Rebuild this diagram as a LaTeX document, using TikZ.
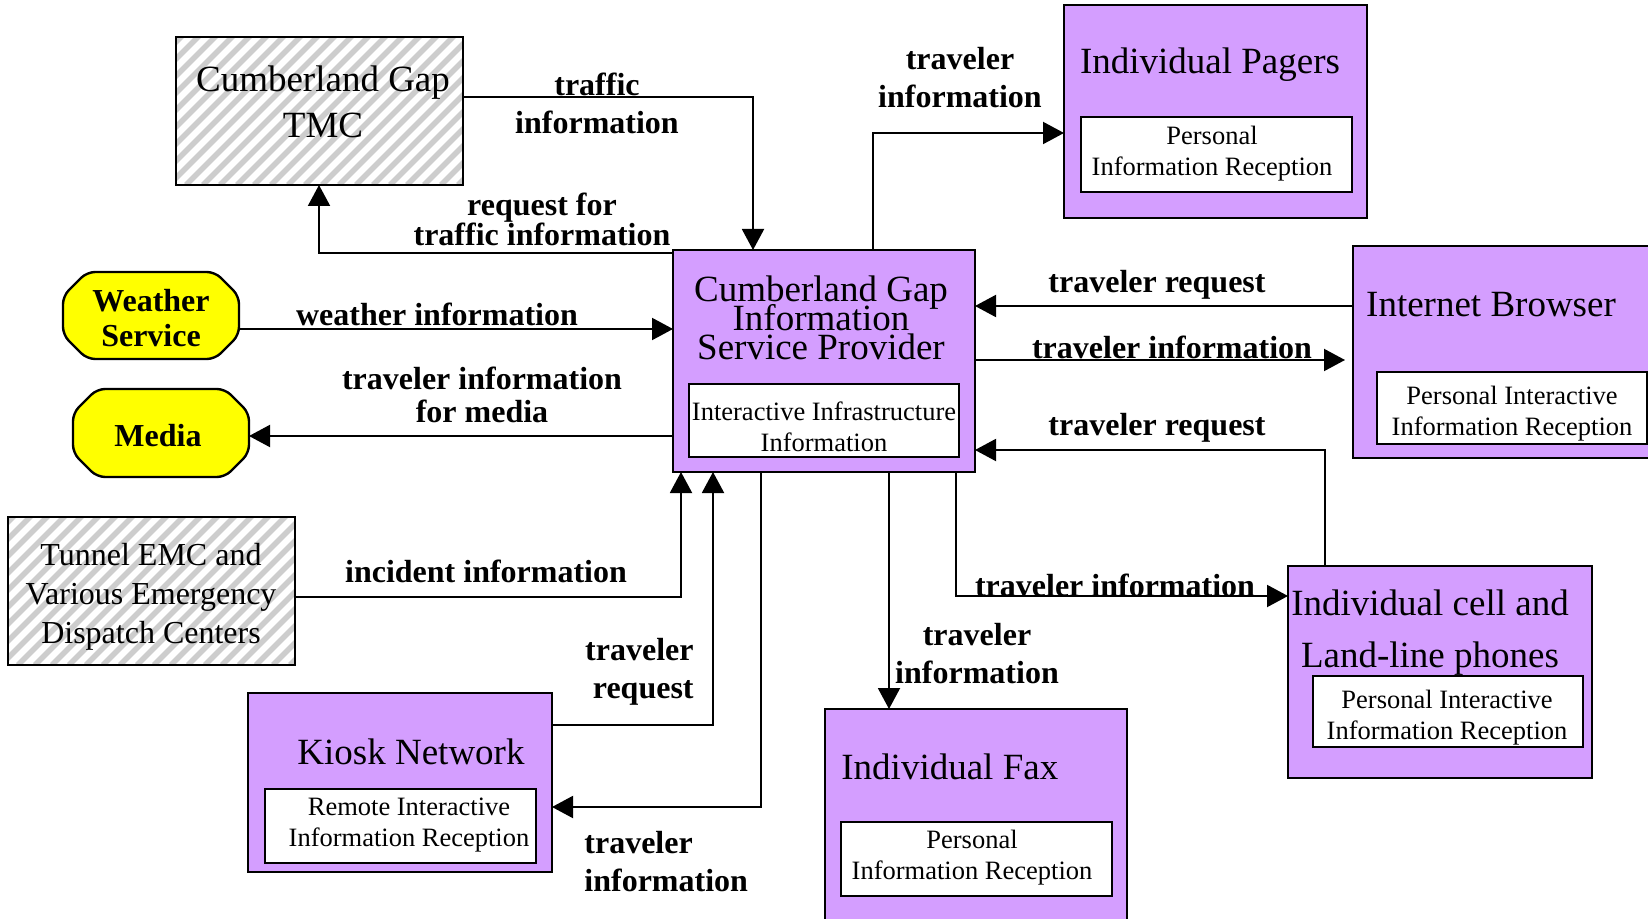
\documentclass[tikz,border=0pt]{standalone}
\usepackage{fontspec}
\setmainfont{Liberation Serif}
\usetikzlibrary{arrows.meta,fit,calc}
\definecolor{boxpurple}{RGB}{212,158,255}
\definecolor{boxyellow}{RGB}{255,255,0}
\definecolor{hatchgray}{RGB}{205,205,205}
\tikzset{
  frame/.style={inner sep=0pt, outer sep=0pt},
  purplebox/.style={frame, draw=black, line width=1.2pt, fill=boxpurple},
  whitebox/.style={frame, draw=black, line width=1.1pt, fill=white},
  borderline/.style={draw=black, line width=1.2pt},
  hatchline/.style={draw=hatchgray, line width=2.7pt},
  yellowshape/.style={draw=black, line width=1.2pt, fill=boxyellow, rounded corners=4pt},
  titletext/.style={font=\fontsize{18.5}{25}\selectfont, inner sep=0pt, align=center},
  innertext/.style={font=\fontsize{13.25}{15.5}\selectfont, inner sep=0pt, align=center},
  lbl/.style={font=\bfseries\fontsize{16}{19}\selectfont, inner sep=0pt, align=center},
  flow/.style={draw=black, line width=1pt, -{Triangle[length=10.5pt,width=11pt]}},
}
\begin{document}
\begin{tikzpicture}[x=0.5pt,y=-0.5pt]
\useasboundingbox (0,0) rectangle (1648,919);
\clip (0,0) rectangle (1648,919);
\fill[white] (0,0) rectangle (1648,919);

% ---------- Cumberland Gap TMC (hatched)
\node[frame, fit={(176,37) (463,185)}] (tmc) {};
\begin{scope}
  \clip (tmc.south west) rectangle (tmc.north east);
  \foreach \k in {0,...,30}
    \draw[hatchline] ($(tmc.south west)+(\k*17-160,0)$) -- ++(170,-170);
\end{scope}
\draw[borderline] (tmc.south west) rectangle (tmc.north east);
\node[titletext, font=\fontsize{18.5}{23}\selectfont] (tmctext) at (323,102) {Cumberland Gap\\TMC};

% ---------- Tunnel EMC (hatched)
\node[frame, fit={(8,517) (295,665)}] (tunnel) {};
\begin{scope}
  \clip (tunnel.south west) rectangle (tunnel.north east);
  \foreach \k in {0,...,30}
    \draw[hatchline] ($(tunnel.south west)+(\k*17-160,0)$) -- ++(170,-170);
\end{scope}
\draw[borderline] (tunnel.south west) rectangle (tunnel.north east);
\node[titletext, font=\fontsize{16}{19.5}\selectfont] (tunneltext) at (151,597)
  {Tunnel EMC and\\Various Emergency\\Dispatch Centers};

% ---------- Weather Service / Media (yellow octagons)
\node[frame, fit={(63,272) (239,359)}] (weather) {};
\draw[yellowshape] ($(weather.north west)+(24,0)$) -- ($(weather.north east)+(-24,0)$)
  -- ($(weather.north east)+(0,24)$) -- ($(weather.south east)+(0,-24)$)
  -- ($(weather.south east)+(-24,0)$) -- ($(weather.south west)+(24,0)$)
  -- ($(weather.south west)+(0,-24)$) -- ($(weather.north west)+(0,24)$) -- cycle;
\node[lbl, font=\bfseries\fontsize{16}{17.5}\selectfont] (weathertext) at (151,318) {Weather\\Service};

\node[frame, fit={(73,389) (249,477)}] (media) {};
\draw[yellowshape] ($(media.north west)+(24,0)$) -- ($(media.north east)+(-24,0)$)
  -- ($(media.north east)+(0,24)$) -- ($(media.south east)+(0,-24)$)
  -- ($(media.south east)+(-24,0)$) -- ($(media.south west)+(24,0)$)
  -- ($(media.south west)+(0,-24)$) -- ($(media.north west)+(0,24)$) -- cycle;
\node[lbl] (mediatext) at (158,436) {Media};

% ---------- ISP
\node[purplebox, fit={(673,250) (975,472)}] (isp) {};
\node[titletext, font={\fontsize{18.5}{14.5}\selectfont\lineskiplimit=-30pt}] (isptext) at (821,318)
  {Cumberland Gap\\Information\\Service Provider};
\node[whitebox, fit={(689,384) (959,457)}] (ispin) {};
\node[innertext] (ispintext) at (824,427) {Interactive Infrastructure\\Information};

% ---------- Individual Pagers
\node[purplebox, fit={(1064,5) (1367,218)}] (pagers) {};
\node[titletext] (pagerstext) at (1210,65) {Individual Pagers};
\node[whitebox, fit={(1081,117) (1352,192)}] (pagersin) {};
\node[innertext] (pagersintext) at (1212,154) {Personal\\Information Reception};

% ---------- Internet Browser
\node[purplebox, fit={(1353,246) (1665,458)}] (browser) {};
\node[titletext] (browsertext) at (1491,305) {Internet Browser};
\node[whitebox, fit={(1377,372) (1647,444)}] (browserin) {};
\node[innertext] (browserintext) at (1512,414) {Personal Interactive\\Information Reception};

% ---------- Cell phones
\node[purplebox, fit={(1288,566) (1592,778)}] (cell) {};
\node[titletext, font=\fontsize{18.5}{26}\selectfont] (celltext) at (1430,633) {Individual cell and\\Land-line phones};
\node[whitebox, fit={(1313,676) (1583,747)}] (cellin) {};
\node[innertext] (cellintext) at (1447,718) {Personal Interactive\\Information Reception};

% ---------- Kiosk Network
\node[purplebox, fit={(248,693) (552,872)}] (kiosk) {};
\node[titletext] (kiosktext) at (411,752) {Kiosk Network};
\node[whitebox, fit={(265,789) (536,863)}] (kioskin) {};
\node[innertext] (kioskintext) at (409,825) {Remote Interactive\\Information Reception};

% ---------- Individual Fax
\node[purplebox, fit={(825,709) (1127,935)}] (fax) {};
\node[titletext, anchor=west] (faxtext) at (841,767) {Individual Fax};
\node[whitebox, fit={(841,822) (1112,896)}] (faxin) {};
\node[innertext] (faxintext) at (972,858) {Personal\\Information Reception};

% ---------- connectors
\coordinate (c1) at (753,97);
\draw[flow] (tmc.east |- c1) -- (c1) -- (c1 |- isp.north);
\coordinate (c2) at (319,253);
\draw[flow] (c2 -| isp.west) -- (c2) -- (c2 |- tmc.south);
\coordinate (c3) at (0,329);
\draw[flow] (weather.east |- c3) -- (isp.west |- c3);
\coordinate (c4) at (0,436);
\draw[flow] (isp.west |- c4) -- (media.east |- c4);
\coordinate (c5) at (681,597);
\draw[flow] (tunnel.east |- c5) -- (c5) -- (c5 |- isp.south);
\coordinate (c6) at (713,725);
\draw[flow] (kiosk.east |- c6) -- (c6) -- (c6 |- isp.south);
\coordinate (c7) at (761,807);
\draw[flow] (c7 |- isp.south) -- (c7) -- (kiosk.east |- c7);
\coordinate (c8) at (889,0);
\draw[flow] (c8 |- isp.south) -- (c8 |- fax.north);
\coordinate (c9) at (956,596);
\draw[flow] (c9 |- isp.south) -- (c9) -- (cell.west |- c9);
\coordinate (c10) at (1325,450);
\draw[flow] (c10 |- cell.north) -- (c10) -- (isp.east |- c10);
\coordinate (c11) at (0,360);
\draw[flow, shorten >=4pt] (isp.east |- c11) -- (browser.west |- c11);
\coordinate (c12) at (0,306);
\draw[flow] (browser.west |- c12) -- (isp.east |- c12);
\coordinate (c13) at (873,133);
\draw[flow] (c13 |- isp.north) -- (c13) -- (pagers.west |- c13);

% ---------- connector labels
\node[lbl] (l1) at (597,103) {traffic\\information};
\node[lbl] (l2) at (542,219) {request for\\[-4pt]traffic information};
\node[lbl] (l3) at (437,314) {weather information};
\node[lbl] (l4) at (482,395) {traveler information\\[-2.5pt]for media};
\node[lbl] (l5) at (486,571) {incident information};
\node[lbl, align=right, anchor=east] (l6) at (694,672) {traveler\\request};
\node[lbl, align=left, anchor=west] (l7) at (584,862) {traveler\\information};
\node[lbl] (l8) at (977,654) {traveler\\information};
\node[lbl] (l9) at (1115,585) {traveler information};
\node[lbl] (l10) at (1157,428) {traveler request};
\node[lbl] (l11) at (1172,347) {traveler information};
\node[lbl] (l12) at (1157,285) {traveler request};
\node[lbl] (l13) at (960,78) {traveler\\information};
\end{tikzpicture}
\end{document}
